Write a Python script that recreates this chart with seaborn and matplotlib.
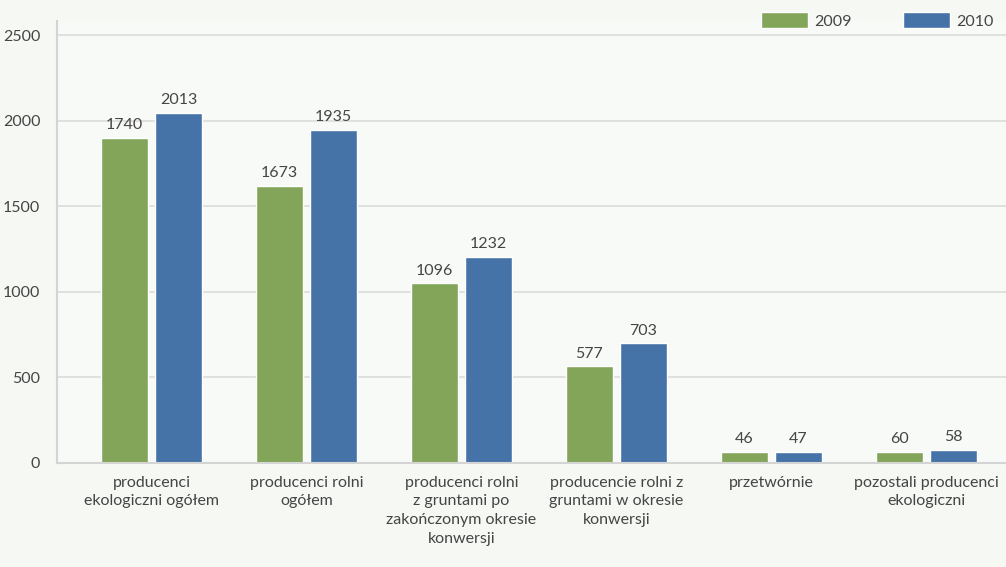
import matplotlib
matplotlib.use("Agg")
import matplotlib.pyplot as plt
import seaborn as sns
import pandas as pd
import numpy as np

categories = [
    "producenci\nekologiczni ogółem",
    "producenci rolni\nogółem",
    "producenci rolni\nz gruntami po\nzakończonym okresie\nkonwersji",
    "producencie rolni z\ngruntami w okresie\nkonwersji",
    "przetwórnie",
    "pozostali producenci\nekologiczni",
]
series = ["2009", "2010"]
# bar heights as drawn in the picture
values_2009 = [1900, 1618, 1050, 565, 66, 66]
values_2010 = [2046, 1947, 1206, 700, 66, 78]
# printed value labels
labels_2009 = ["1740", "1673", "1096", "577", "46", "60"]
labels_2010 = ["2013", "1935", "1232", "703", "47", "58"]
yticks = [0, 500, 1000, 1500, 2000, 2500]

colors = {"2009": "#82a55a", "2010": "#4573a7"}
text_color = "#454545"

df = pd.DataFrame({
    "cat": categories * 2,
    "year": ["2009"] * 6 + ["2010"] * 6,
    "val": values_2009 + values_2010,
})

sns.set_style("white")
plt.rcParams["font.family"] = ["Lato", "DejaVu Sans"]

fig = plt.figure(figsize=(10.06, 5.67), dpi=100)
fig.patch.set_facecolor("#f5f8f3")
ax = fig.add_axes([57 / 1006, 1 - 463 / 567, 1 - 57 / 1006, (463 - 21) / 567])
ax.set_facecolor("#f7faf6")

sns.barplot(data=df, x="cat", y="val", hue="year", palette=colors,
            width=0.697, gap=0.13, ax=ax, saturation=1, legend=True)

ax.set_xlim(-0.6097, 5.513)
ax.set_ylim(0, 2582)
ax.set_yticks(yticks)
ax.set_yticklabels([str(t) for t in yticks])
ax.set_xlabel("")
ax.set_ylabel("")
ax.grid(axis="y", color="#d9d9d9", linewidth=1.1)
ax.set_axisbelow(True)
for s in ["top", "right"]:
    ax.spines[s].set_visible(False)
for s in ["left", "bottom"]:
    ax.spines[s].set_color("#d4d4d4")
    ax.spines[s].set_linewidth(1.5)
ax.tick_params(axis="both", length=0, colors=text_color, labelsize=11.5)
ax.tick_params(axis="y", pad=12)
ax.tick_params(axis="x", pad=9)
for lbl in ax.get_xticklabels():
    lbl.set_linespacing(1.45)

all_labels = [labels_2009, labels_2010]
for ci, cont in enumerate(ax.containers):
    ax.bar_label(cont, labels=all_labels[ci], padding=4, color=text_color, fontsize=11.5)

leg = ax.legend(loc="upper right", bbox_to_anchor=(1.0, 1.0), bbox_transform=fig.transFigure,
                ncol=2, frameon=False, fontsize=11.5, handlelength=2.95, handleheight=1.2,
                handletextpad=0.4, columnspacing=3.2, borderaxespad=0.35)
for t in leg.get_texts():
    t.set_color(text_color)

fig.savefig("out.png", dpi=100, facecolor=fig.get_facecolor())
